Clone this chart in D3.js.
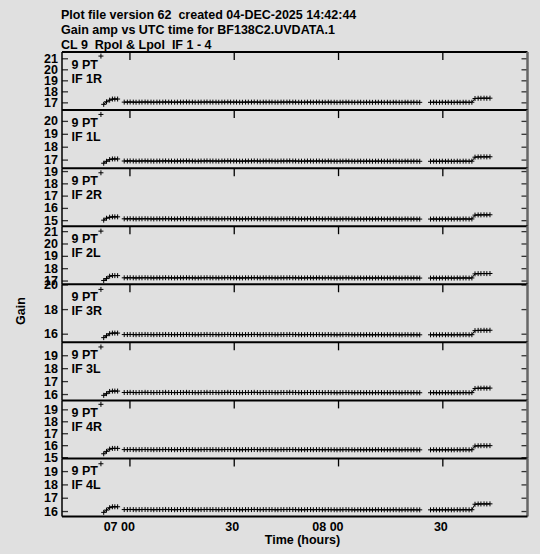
<!DOCTYPE html>
<html>
<head>
<meta charset="utf-8">
<script src="https://cdn.jsdelivr.net/npm/d3@7"></script>
<style>
  html, body { margin: 0; padding: 0; background: #e0e0e0; }
  svg { display: block; }
  text { font-family: "Liberation Sans", Arial, Helvetica, sans-serif; font-weight: bold; font-size: 12.5px; fill: #000; white-space: pre; }
</style>
</head>
<body>
<svg id="plot"></svg>
<script>
// header of the AIPS plot
const titleLines = [
  'Plot file version 62  created 04-DEC-2025 14:42:44',
  'Gain amp vs UTC time for BF138C2.UVDATA.1',
  'CL 9  Rpol & Lpol  IF 1 - 4'
];
const panelLabels = ['IF 1R', 'IF 1L', 'IF 2R', 'IF 2L', 'IF 3R', 'IF 3L', 'IF 4R', 'IF 4L'];
const pointLabel = '9 PT';

// sample times, minutes after 07 00 UTC
const minutes = [
  -8.2,
  -7.4, -6.6, -5.7, -4.9, -4.2, -3.4,
  -1.5, -0.6, 0.2, 1.1, 1.9, 2.8, 3.6, 4.5, 5.3, 6.2,
  7.0, 7.9, 8.7, 9.6, 10.4, 11.3, 12.1, 13.0, 13.8, 14.7,
  15.5, 16.4, 17.2, 18.1, 18.9, 19.8, 20.6, 21.5, 22.3, 23.2,
  24.0, 24.9, 25.7, 26.6, 27.4, 28.3, 29.1, 30.0, 30.8, 31.7,
  32.5, 33.4, 34.2, 35.1, 35.9, 36.8, 37.6, 38.5, 39.3, 40.2,
  41.0, 41.9, 42.7, 43.6, 44.4, 45.3, 46.1, 47.0, 47.8, 48.7,
  49.5, 50.4, 51.2, 52.1, 52.9, 53.8, 54.6, 55.5, 56.3, 57.2,
  58.0, 58.9, 59.7, 60.6, 61.4, 62.3, 63.1, 64.0, 64.8, 65.7,
  66.5, 67.4, 68.2, 69.1, 69.9, 70.8, 71.6, 72.5, 73.3, 74.2,
  75.0, 75.9, 76.7, 77.6, 78.4, 79.3, 80.1, 81.0, 81.8, 82.7,
  83.5,
  86.6, 87.5, 88.3, 89.2, 90.0, 90.9, 91.7, 92.6, 93.4, 94.3, 95.1, 96.0, 96.8, 97.7, 98.5,
  99.4, 100.3, 101.1, 102.0, 102.8, 103.7
];
// index where a new, unconnected run of points begins
const runStarts = [0, 1, 7, 108];

const gain1R = [
  21.2,
  16.82, 17.05, 17.2, 17.3, 17.3, 17.3,
  17.02,17.02,17.03,17.02,17.01,17.02,17.02,17.03,17.02,17.02,
  17.01,17.02,17.02,17.02,17.03,17.02,17.02,17.01,17.02,17.02,
  17.02,17.03,17.02,17.02,17.01,17.01,17.02,17.02,17.03,17.02,
  17.02,17.02,17.01,17.02,17.02,17.03,17.02,17.02,17.02,17.01,
  17.01,17.02,17.02,17.02,17.03,17.02,17.01,17.02,17.02,17.02,
  17.02,17.01,17.01,17.02,17.02,17.02,17.03,17.02,17.02,17.01,
  17.01,17.01,17.02,17.02,17.01,17.02,17.02,17.01,17.01,17.02,
  17.01,17.01,17.00,17.01,17.01,17.02,17.01,17.01,17.00,17.01,
  17.01,17.00,17.01,17.01,17.00,17.01,17.01,17.01,17.00,17.01,
  17.00,17.01,17.01,17.00,17.00,17.01,17.01,17.00,17.01,17.00,
  17.00,
  17.00,17.01,17.00,17.00,17.01,17.00,17.01,17.00,17.00,17.01,17.00,17.01,17.01,17.00,17.01,
  17.35,17.37,17.37,17.38,17.37,17.38
];
const gain1L = [
  20.5,
  16.72, 16.87, 17.0, 17.05, 17.05, 17.05,
  16.89,16.89,16.90,16.89,16.88,16.89,16.89,16.90,16.89,16.89,
  16.88,16.89,16.89,16.89,16.90,16.89,16.89,16.88,16.89,16.89,
  16.89,16.90,16.89,16.89,16.88,16.88,16.89,16.89,16.90,16.89,
  16.89,16.89,16.88,16.89,16.89,16.90,16.89,16.89,16.89,16.88,
  16.88,16.89,16.89,16.89,16.90,16.89,16.88,16.89,16.89,16.89,
  16.89,16.88,16.88,16.89,16.89,16.89,16.90,16.89,16.89,16.88,
  16.88,16.88,16.89,16.89,16.88,16.89,16.89,16.88,16.88,16.89,
  16.88,16.88,16.87,16.88,16.88,16.89,16.88,16.88,16.87,16.88,
  16.88,16.87,16.88,16.88,16.87,16.88,16.88,16.88,16.87,16.88,
  16.87,16.88,16.88,16.87,16.87,16.88,16.88,16.87,16.88,16.87,
  16.87,
  16.87,16.88,16.87,16.87,16.88,16.87,16.88,16.87,16.87,16.88,16.87,16.88,16.88,16.87,16.88,
  17.19,17.21,17.21,17.22,17.21,17.22
];
const gain2R = [
  18.86,
  15.0, 15.16, 15.24, 15.27, 15.27, 15.27,
  15.11,15.11,15.12,15.11,15.10,15.11,15.11,15.12,15.11,15.11,
  15.10,15.11,15.11,15.11,15.12,15.11,15.11,15.10,15.11,15.11,
  15.11,15.12,15.11,15.11,15.10,15.10,15.11,15.11,15.12,15.11,
  15.11,15.11,15.10,15.11,15.11,15.12,15.11,15.11,15.11,15.10,
  15.10,15.11,15.11,15.11,15.12,15.11,15.10,15.11,15.11,15.11,
  15.11,15.10,15.10,15.11,15.11,15.11,15.12,15.11,15.11,15.10,
  15.10,15.10,15.11,15.11,15.10,15.11,15.11,15.10,15.10,15.11,
  15.10,15.10,15.09,15.10,15.10,15.11,15.10,15.10,15.09,15.10,
  15.10,15.09,15.10,15.10,15.09,15.10,15.10,15.10,15.09,15.10,
  15.09,15.10,15.10,15.09,15.09,15.10,15.10,15.09,15.10,15.09,
  15.09,
  15.09,15.10,15.09,15.09,15.10,15.09,15.10,15.09,15.09,15.10,15.09,15.10,15.10,15.09,15.10,
  15.41,15.43,15.43,15.44,15.43,15.44
];
const gain2L = [
  21.0,
  17.0, 17.16, 17.35, 17.4, 17.4, 17.4,
  17.22,17.22,17.23,17.22,17.21,17.22,17.22,17.23,17.22,17.22,
  17.21,17.22,17.22,17.22,17.23,17.22,17.22,17.21,17.22,17.22,
  17.22,17.23,17.22,17.22,17.21,17.21,17.22,17.22,17.23,17.22,
  17.22,17.22,17.21,17.22,17.22,17.23,17.22,17.22,17.22,17.21,
  17.21,17.22,17.22,17.22,17.23,17.22,17.21,17.22,17.22,17.22,
  17.22,17.21,17.21,17.22,17.22,17.22,17.23,17.22,17.22,17.21,
  17.21,17.21,17.22,17.22,17.21,17.22,17.22,17.21,17.21,17.22,
  17.21,17.21,17.20,17.21,17.21,17.22,17.21,17.21,17.20,17.21,
  17.21,17.20,17.21,17.21,17.20,17.21,17.21,17.21,17.20,17.21,
  17.20,17.21,17.21,17.20,17.20,17.21,17.21,17.20,17.21,17.20,
  17.20,
  17.20,17.21,17.20,17.20,17.21,17.20,17.21,17.20,17.20,17.21,17.20,17.21,17.21,17.20,17.21,
  17.54,17.56,17.56,17.57,17.56,17.57
];
const gain3R = [
  19.6,
  15.68, 15.84, 16.0, 16.05, 16.05, 16.05,
  15.93,15.93,15.94,15.93,15.92,15.93,15.93,15.94,15.93,15.93,
  15.92,15.93,15.93,15.93,15.94,15.93,15.93,15.92,15.93,15.93,
  15.93,15.94,15.93,15.93,15.92,15.92,15.93,15.93,15.94,15.93,
  15.93,15.93,15.92,15.93,15.93,15.94,15.93,15.93,15.93,15.92,
  15.92,15.93,15.93,15.93,15.94,15.93,15.92,15.93,15.93,15.93,
  15.93,15.92,15.92,15.93,15.93,15.93,15.94,15.93,15.93,15.92,
  15.92,15.92,15.93,15.93,15.92,15.93,15.93,15.92,15.92,15.93,
  15.92,15.92,15.91,15.92,15.92,15.93,15.92,15.92,15.91,15.92,
  15.92,15.91,15.92,15.92,15.91,15.92,15.92,15.92,15.91,15.92,
  15.91,15.92,15.92,15.91,15.91,15.92,15.92,15.91,15.92,15.91,
  15.91,
  15.91,15.92,15.91,15.91,15.92,15.91,15.92,15.91,15.91,15.92,15.91,15.92,15.92,15.91,15.92,
  16.25,16.27,16.27,16.28,16.27,16.28
];
const gain3L = [
  19.64,
  15.9, 16.03, 16.2, 16.23, 16.23, 16.23,
  16.12,16.12,16.13,16.12,16.11,16.12,16.12,16.13,16.12,16.12,
  16.11,16.12,16.12,16.12,16.13,16.12,16.12,16.11,16.12,16.12,
  16.12,16.13,16.12,16.12,16.11,16.11,16.12,16.12,16.13,16.12,
  16.12,16.12,16.11,16.12,16.12,16.13,16.12,16.12,16.12,16.11,
  16.11,16.12,16.12,16.12,16.13,16.12,16.11,16.12,16.12,16.12,
  16.12,16.11,16.11,16.12,16.12,16.12,16.13,16.12,16.12,16.11,
  16.11,16.11,16.12,16.12,16.11,16.12,16.12,16.11,16.11,16.12,
  16.11,16.11,16.10,16.11,16.11,16.12,16.11,16.11,16.10,16.11,
  16.11,16.10,16.11,16.11,16.10,16.11,16.11,16.11,16.10,16.11,
  16.10,16.11,16.11,16.10,16.10,16.11,16.11,16.10,16.11,16.10,
  16.10,
  16.10,16.11,16.10,16.10,16.11,16.10,16.11,16.10,16.10,16.11,16.10,16.11,16.11,16.10,16.11,
  16.43,16.45,16.45,16.46,16.45,16.46
];
const gain4R = [
  19.42,
  15.28, 15.48, 15.67, 15.73, 15.73, 15.73,
  15.63,15.63,15.64,15.63,15.62,15.63,15.63,15.64,15.63,15.63,
  15.62,15.63,15.63,15.63,15.64,15.63,15.63,15.62,15.63,15.63,
  15.63,15.64,15.63,15.63,15.62,15.62,15.63,15.63,15.64,15.63,
  15.63,15.63,15.62,15.63,15.63,15.64,15.63,15.63,15.63,15.62,
  15.62,15.63,15.63,15.63,15.64,15.63,15.62,15.63,15.63,15.63,
  15.63,15.62,15.62,15.63,15.63,15.63,15.64,15.63,15.63,15.62,
  15.62,15.62,15.63,15.63,15.62,15.63,15.63,15.62,15.62,15.63,
  15.62,15.62,15.61,15.62,15.62,15.63,15.62,15.62,15.61,15.62,
  15.62,15.61,15.62,15.62,15.61,15.62,15.62,15.62,15.61,15.62,
  15.61,15.62,15.62,15.61,15.61,15.62,15.62,15.61,15.62,15.61,
  15.61,
  15.61,15.62,15.61,15.61,15.62,15.61,15.62,15.61,15.61,15.62,15.61,15.62,15.62,15.61,15.62,
  15.93,15.95,15.95,15.96,15.95,15.96
];
const gain4L = [
  19.55,
  15.9, 16.07, 16.25, 16.32, 16.32, 16.32,
  16.11,16.11,16.12,16.11,16.10,16.11,16.11,16.12,16.11,16.11,
  16.10,16.11,16.11,16.11,16.12,16.11,16.11,16.10,16.11,16.11,
  16.11,16.12,16.11,16.11,16.10,16.10,16.11,16.11,16.12,16.11,
  16.11,16.11,16.10,16.11,16.11,16.12,16.11,16.11,16.11,16.10,
  16.10,16.11,16.11,16.11,16.12,16.11,16.10,16.11,16.11,16.11,
  16.11,16.10,16.10,16.11,16.11,16.11,16.12,16.11,16.11,16.10,
  16.10,16.10,16.11,16.11,16.10,16.11,16.11,16.10,16.10,16.11,
  16.10,16.10,16.09,16.10,16.10,16.11,16.10,16.10,16.09,16.10,
  16.10,16.09,16.10,16.10,16.09,16.10,16.10,16.10,16.09,16.10,
  16.09,16.10,16.10,16.09,16.09,16.10,16.10,16.09,16.10,16.09,
  16.09,
  16.09,16.10,16.09,16.09,16.10,16.09,16.10,16.09,16.09,16.10,16.09,16.10,16.10,16.09,16.10,
  16.51,16.53,16.53,16.54,16.53,16.54
];
const panelGains = [gain1R, gain1L, gain2R, gain2L, gain3R, gain3L, gain4R, gain4L];

// y extent of each panel and its labelled ticks
const gainLow = [16.30, 16.34, 14.51, 16.70, 15.30, 15.51, 14.89, 15.59];
const gainHigh = [21.57, 20.84, 19.24, 21.40, 20.02, 20.00, 19.75, 19.95];
const gainTicks = [
  [17, 18, 19, 20, 21],
  [17, 18, 19, 20],
  [15, 16, 17, 18, 19],
  [17, 18, 19, 20, 21],
  [16, 18, 20],
  [16, 17, 18, 19],
  [15, 16, 17, 18, 19],
  [16, 17, 18, 19]
];
const timeExtent = [-19.4, 114.5];
const timeTicks = [0, 30, 60, 90];
const timeTickLabels = ['07 00', '30', '08 00', '30'];

const width = 540, height = 554;
const plotLeft = 62, plotRight = 527.5, plotTop = 52, plotBottom = 516.5;
const panelH = (plotBottom - plotTop) / panelGains.length;

const svg = d3.select('#plot').attr('width', width).attr('height', height);

svg.append('rect').attr('width', width).attr('height', height).attr('fill', '#e0e0e0');

svg
  .selectAll('.title')
  .data(titleLines)
  .enter()
  .append('text')
  .classed('title', true)
  .attr('x', 61)
  .attr('y', (d, i) => 19 + i * 15)
  .text(d => d);

const x = d3.scaleLinear().domain(timeExtent).range([plotLeft, plotRight]);

const plus = 'M-2.5,0H2.5M0,-2.5V2.5';

panelGains.forEach((gain, i) => {
  const y0 = plotTop + i * panelH;
  const y = d3
    .scaleLinear()
    .domain([gainLow[i], gainHigh[i]])
    .range([y0 + panelH, y0]);
  const g = svg.append('g').classed('panel', true);

  // left axis, ticks pointing into the panel
  g.append('g')
    .attr('transform', 'translate(' + plotLeft + ',0)')
    .call(
      d3.axisLeft(y).tickValues(gainTicks[i]).tickSize(-6).tickPadding(4).tickFormat(d3.format('d'))
    )
    .call(a => a.select('.domain').remove())
    .call(a => a.selectAll('line').attr('stroke', '#333').attr('stroke-width', 1.3))
    .call(a => a.selectAll('text').attr('fill', '#000'))
    .attr('font-size', null)
    .attr('font-family', null);

  // right axis, unlabelled
  g.append('g')
    .attr('transform', 'translate(' + plotRight + ',0)')
    .call(d3.axisRight(y).tickValues(gainTicks[i]).tickSize(-6).tickFormat(''))
    .call(a => a.select('.domain').remove())
    .call(a => a.selectAll('line').attr('stroke', '#333').attr('stroke-width', 1.3));

  // time ticks hanging from the top of each panel
  g.append('g')
    .attr('transform', 'translate(0,' + y0 + ')')
    .call(d3.axisTop(x).tickValues(timeTicks).tickSize(-8).tickFormat(''))
    .call(a => a.select('.domain').remove())
    .call(a => a.selectAll('line').attr('stroke', '#000').attr('stroke-width', 1.3));

  // frame
  g.append('line')
    .attr('x1', plotLeft).attr('x2', plotRight)
    .attr('y1', y0).attr('y2', y0)
    .attr('stroke', '#000').attr('stroke-width', 2);
  g.append('line')
    .attr('x1', plotLeft).attr('x2', plotLeft)
    .attr('y1', y0).attr('y2', y0 + panelH)
    .attr('stroke', '#000').attr('stroke-width', 1.5);
  g.append('line')
    .attr('x1', plotRight).attr('x2', plotRight)
    .attr('y1', y0).attr('y2', y0 + panelH)
    .attr('stroke', '#666').attr('stroke-width', 2.5);

  // connected runs of points
  const line = d3.line().x(j => x(minutes[j])).y(j => y(gain[j]));
  runStarts.forEach((s, k) => {
    const e = k + 1 < runStarts.length ? runStarts[k + 1] : minutes.length;
    if (e - s < 2) return;
    g.append('path')
      .attr('d', line(d3.range(s, e)))
      .attr('fill', 'none')
      .attr('stroke', '#000')
      .attr('stroke-width', 1);
  });

  g.selectAll('.pt')
    .data(gain)
    .enter()
    .append('path')
    .classed('pt', true)
    .attr('transform', (d, j) => 'translate(' + x(minutes[j]) + ',' + y(d) + ')')
    .attr('d', plus)
    .attr('stroke', '#000')
    .attr('stroke-width', 1)
    .attr('fill', 'none');

  g.append('text').attr('x', 71.5).attr('y', y0 + 17).text(pointLabel);
  g.append('text').attr('x', 71.5).attr('y', y0 + 30.5).text(panelLabels[i]);
});

// bottom edge
svg.append('line')
  .attr('x1', plotLeft).attr('x2', plotRight)
  .attr('y1', plotBottom).attr('y2', plotBottom)
  .attr('stroke', '#000').attr('stroke-width', 2);

svg
  .selectAll('.xlab')
  .data(timeTicks)
  .enter()
  .append('text')
  .classed('xlab', true)
  .attr('x', d => x(d) + 5.5)
  .attr('y', 531)
  .attr('text-anchor', 'end')
  .text((d, i) => timeTickLabels[i]);

svg.append('text')
  .attr('x', 302.5)
  .attr('y', 544)
  .attr('text-anchor', 'middle')
  .text('Time (hours)');

svg.append('text')
  .attr('transform', 'translate(24.5,311) rotate(-90)')
  .attr('text-anchor', 'middle')
  .text('Gain');
</script>
</body>
</html>
